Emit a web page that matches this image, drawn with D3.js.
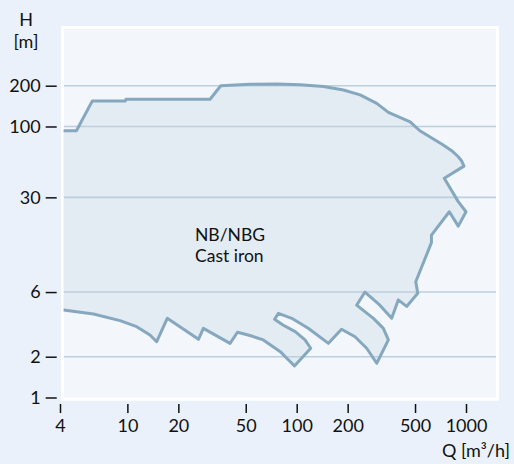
<!DOCTYPE html>
<html>
<head>
<meta charset="utf-8">
<script src="https://cdn.jsdelivr.net/npm/d3@7"></script>
<style>
  html, body { margin: 0; padding: 0; background: #eaf1fa; }
  svg { display: block; }
  text { font-family: Lato, "Open Sans", sans-serif; fill: #111; }
</style>
</head>
<body>
<svg id="chart" width="514" height="464"></svg>
<script>
// Tick values
const xTicks = [4, 10, 20, 50, 100, 200, 500, 1000];
const yTicks = [1, 2, 6, 30, 100, 200];
const yGrid = [2, 6, 30, 100, 200];

// Envelope outline of the performance range (Q in m³/h, H in m), traced clockwise
const flowQ = [4.2, 5.0, 6.2, 9.7, 9.8, 30.8, 35.6, 53, 76, 105, 144, 189, 237, 297, 348, 468, 534, 734, 823, 900, 943, 973,
  744, 900, 1000, 900, 797, 625, 625, 505, 519, 446, 398, 364, 310, 253, 226, 284, 325, 348, 297, 259, 221, 184,
  154, 117, 93.5, 78, 74, 83, 98, 112, 121, 97, 87.7, 80, 71.5, 63.5, 53, 44.7, 40.4, 28.1, 26.3, 17.2, 14.9, 13.6, 11.35, 9.05, 6.3, 4.2];
const headH = [93, 93, 154, 154, 159, 159, 200, 205, 206, 203, 197, 186, 171, 148, 127, 108, 93, 73, 66.3, 59.8, 55.6, 51,
  41.5, 27.9, 23.5, 18.4, 23.5, 15.8, 13.9, 7.15, 5.87, 4.7, 5.25, 3.84, 4.8, 6.0, 4.8, 3.84, 3.24, 2.66, 1.79, 2.31, 2.81, 3.19,
  2.51, 3.24, 3.84, 4.18, 3.78, 3.43, 3.06, 2.66, 2.31, 1.71, 1.94, 2.18, 2.40, 2.66, 2.87, 3.03, 2.51, 3.24, 2.69, 3.84, 2.58, 2.89, 3.33, 3.69, 4.13, 4.42];

const labelLines = ["NB/NBG", "Cast iron"];
const yTitleLines = ["H", "[m]"];
const xTitle = "Q [m³/h]";

const svg = d3.select("#chart");
const x = d3.scaleLog().domain([4, 1000]).range([60, 466]);
const y = d3.scaleLog().domain([1, 200]).range([397.5, 85.7]);

// background
svg.append("rect").attr("width", 514).attr("height", 464).attr("fill", "#eaf1fa");

// plot frame
svg.append("rect")
  .attr("x", 62.5).attr("y", 27.5).attr("width", 435).attr("height", 371.7)
  .attr("fill", "#f3f7fc").attr("stroke", "#ffffff").attr("stroke-width", 3);

const pts = flowQ.map((q, i) => [q, headH[i]]);
const line = d3.line().x(d => x(d[0])).y(d => y(d[1]));

// filled region
svg.append("path")
  .attr("d", line(pts) + "Z")
  .attr("fill", "#e3ebf3")
  .attr("stroke", "none");

// gridlines
svg.append("g").selectAll("line").data(yGrid).join("line")
  .attr("x1", 64).attr("x2", 496)
  .attr("y1", d => y(d)).attr("y2", d => y(d))
  .attr("stroke", "#bdcfdc").attr("stroke-width", 1.6);

// outline
svg.append("path")
  .attr("d", line(pts))
  .attr("fill", "none")
  .attr("stroke", "#86a8bf")
  .attr("stroke-width", 3)
  .attr("stroke-linejoin", "round");

const FONT = "Lato, 'Open Sans', sans-serif";

// Y axis
const yAxis = d3.axisLeft(y).tickValues(yTicks).tickFormat(d3.format("d")).tickSize(11).tickPadding(5);
const gy = svg.append("g").attr("transform", "translate(56.7,0)").call(yAxis);
gy.select(".domain").remove();
gy.selectAll(".tick line").attr("stroke", "#111").attr("stroke-width", 1.5);
gy.selectAll(".tick text").attr("font-size", 18).attr("fill", "#111").style("font-family", FONT);

// X axis
const xAxis = d3.axisBottom(x).tickValues(xTicks).tickFormat(d3.format("d")).tickSize(9).tickPadding(6);
const gx = svg.append("g").attr("transform", "translate(0,404)").call(xAxis);
gx.select(".domain").remove();
gx.selectAll(".tick line").attr("stroke", "#111").attr("stroke-width", 1.5);
gx.selectAll(".tick text").attr("font-size", 18).attr("fill", "#111").style("font-family", FONT);

// axis titles
svg.append("g").selectAll("text").data(yTitleLines).join("text")
  .attr("x", 26).attr("y", (d, i) => 26.3 + i * 21.8)
  .attr("text-anchor", "middle").attr("font-size", 18).text(d => d);
svg.append("text").attr("x", 510).attr("y", 456.5).attr("text-anchor", "end").attr("font-size", 18).text(xTitle);

// region label
svg.append("g").selectAll("text").data(labelLines).join("text")
  .attr("x", 195).attr("y", (d, i) => 240.6 + i * 21.2)
  .attr("font-size", 17.5).text(d => d);
</script>
</body>
</html>
